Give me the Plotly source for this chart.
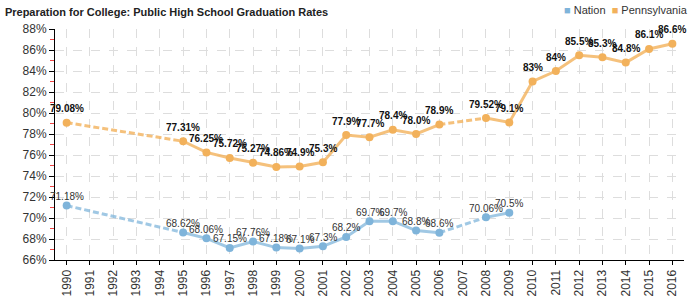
import plotly.graph_objects as go

years = list(range(1990, 2017))
nation = [71.18, None, None, None, None, 68.62, 68.06, 67.15, 67.76, 67.18, 67.1, 67.3, 68.2, 69.7, 69.7, 68.8, 68.6, None, 70.06, 70.5,
          None, None, None, None, None, None, None]
penn = [79.08, None, None, None, None, 77.31, 76.25, 75.72, 75.27, 74.86, 74.9, 75.3, 77.9, 77.7, 78.4, 78.0, 78.9, None, 79.52, 79.1,
        83, 84, 85.5, 85.3, 84.8, 86.1, 86.6]
nation_labels = ["71.18%", "", "", "", "", "68.62%", "68.06%", "67.15%", "67.76%", "67.18%", "67.1%", "67.3%", "68.2%", "69.7%",
                 "69.7%", "68.8%", "68.6%", "", "70.06%", "70.5%", "", "", "", "", "", "", ""]
penn_labels = ["79.08%", "", "", "", "", "77.31%", "76.25%", "75.72%", "75.27%", "74.86%", "74.9%", "75.3%", "77.9%", "77.7%",
               "78.4%", "78.0%", "78.9%", "", "79.52%", "79.1%", "83%", "84%", "85.5%", "85.3%", "84.8%", "86.1%", "86.6%"]
series_names = ["Nation", "Pennsylvania"]


def gap_bridges(xs, ys):
    pts = [(x, y) for x, y in zip(xs, ys) if y is not None]
    bx, by = [], []
    for (x0, y0), (x1, y1) in zip(pts, pts[1:]):
        if x1 - x0 > 1:
            bx += [x0, x1, None]
            by += [y0, y1, None]
    return bx, by


fig = go.Figure()
styles = [
    dict(mcol="#7fb4da", lcol="rgba(128,181,219,0.75)", shift=9,
         font=dict(size=10, color="#333333", family="Liberation Sans, Arial")),
    dict(mcol="#f2b15b", lcol="rgba(242,177,91,0.8)", shift=14,
         font=dict(size=10, color="#111111", family="Liberation Sans, Arial", weight="bold")),
]
annotations = []
for name, vals, labels, st in zip(series_names, [nation, penn], [nation_labels, penn_labels], styles):
    bx, by = gap_bridges(years, vals)
    fig.add_trace(go.Scatter(x=bx, y=by, mode="lines", line=dict(color=st["lcol"], width=3, dash="6px,3px"),
                             showlegend=False, hoverinfo="skip", cliponaxis=False))
    fig.add_trace(go.Scatter(x=years, y=vals, mode="lines+markers", name=name, connectgaps=False,
                             line=dict(color=st["lcol"], width=3), marker=dict(color=st["mcol"], size=8),
                             showlegend=False, cliponaxis=False))
    for x, y, t in zip(years, vals, labels):
        if y is None or not t:
            continue
        annotations.append(dict(x=x, y=y, xref="x", yref="y", text=t, showarrow=False,
                                yshift=st["shift"], font=st["font"], xanchor="center", yanchor="middle"))

legend_text = ("<span style='color:#7fb4da'>■</span> Nation  "
               "<span style='color:#f2b15b'>■</span> Pennsylvania")
annotations.append(dict(x=1.01, y=1.082, xref="paper", yref="paper", text=legend_text, showarrow=False,
                        xanchor="right", yanchor="middle", font=dict(size=11, color="#333333")))

fig.update_layout(
    width=700, height=300,
    margin=dict(l=55, r=16, t=29, b=40, autoexpand=False),
    paper_bgcolor="white", plot_bgcolor="white",
    font=dict(family="Liberation Sans, Arial", color="#333333"),
    title=dict(text="<b>Preparation for College: Public High School Graduation Rates</b>",
               x=0.007, xanchor="left", y=0.96, yanchor="middle", font=dict(size=11, color="#222222")),
    showlegend=False,
    annotations=annotations,
    xaxis=dict(range=[1989.5, 2016.5], tickmode="array", tickvals=years, ticktext=[str(y) for y in years],
               tickangle=-90, tickfont=dict(size=12, color="#333333"),
               showgrid=True, gridcolor="#dddddd", griddash="dash", gridwidth=1,
               showline=True, linecolor="black", linewidth=1,
               ticks="outside", ticklen=4, tickcolor="black", zeroline=False),
    yaxis=dict(range=[66, 88], dtick=2, ticksuffix="%", tickfont=dict(size=12, color="#333333"),
               showgrid=True, gridcolor="#dddddd", griddash="dash", gridwidth=1,
               showline=True, linecolor="black", linewidth=1,
               ticks="outside", ticklen=5, tickcolor="black", zeroline=False,
               minor=dict(dtick=1, ticks="outside", ticklen=4, tickcolor="#ee4444", showgrid=False)),
)

fig.write_html("out.html")
